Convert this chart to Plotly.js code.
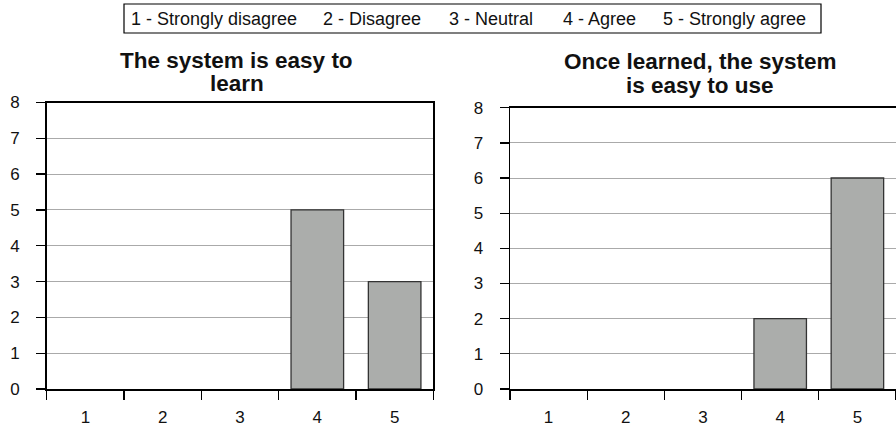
<!DOCTYPE html>
<html>
<head>
<meta charset="utf-8">
<script src="https://cdn.plot.ly/plotly-3.0.1.min.js"></script>
<style>html,body{margin:0;padding:0;background:#fff;}#chart{width:896px;height:427px;}</style>
</head>
<body>
<div id="chart"></div>
<script>
// ---- data ----
const categories = ['1', '2', '3', '4', '5'];
const learnCounts = [0, 0, 0, 5, 3];
const useCounts = [0, 0, 0, 2, 6];
const legendLabels = ['1 - Strongly disagree', '2 - Disagree', '3 - Neutral', '4 - Agree', '5 - Strongly agree'];
const titleLeft = ['The system is easy to', 'learn'];
const titleRight = ['Once learned, the system', 'is easy to use'];

// ---- layout helpers ----
const W = 896, H = 427;
const px = x => x / W;
const py = y => 1 - y / H;
const FONT = 'Liberation Sans, Arial, Helvetica, sans-serif';

function barMarker(vals) {
  return {color: '#abadab', line: {color: '#333333', width: vals.map(v => (v === 0 ? 0 : 1.3))}};
}

const traces = [
  {type: 'bar', x: categories, y: learnCounts, xaxis: 'x', yaxis: 'y', width: 0.68,
   marker: barMarker(learnCounts), showlegend: false, hoverinfo: 'x+y'},
  {type: 'bar', x: categories, y: useCounts, xaxis: 'x2', yaxis: 'y2', width: 0.68,
   marker: barMarker(useCounts), showlegend: false, hoverinfo: 'x+y'}
];

function xAxis(domain, anchor) {
  return {
    domain: domain, anchor: anchor, type: 'category', categoryorder: 'array', categoryarray: categories,
    range: [-0.5, 4.5], tickson: 'boundaries', ticks: 'outside', ticklen: 9, tickwidth: 1.3,
    tickcolor: '#000', showline: true, linecolor: '#000', linewidth: 1.5, mirror: true,
    showgrid: false, zeroline: false, fixedrange: true, ticklabelstandoff: 12,
    tickfont: {family: FONT, size: 17, color: '#111'}
  };
}
function yAxis(domain, anchor, mirror) {
  return {
    domain: domain, anchor: anchor, range: [0, 8], dtick: 1, tick0: 0, ticks: 'outside',
    ticklen: 9, tickwidth: 1.3, tickcolor: '#000', showline: true, linecolor: '#000',
    linewidth: 1.5, mirror: mirror, showgrid: true, gridcolor: '#aaaaaa', gridwidth: 1,
    zeroline: false, fixedrange: true, ticklabelstandoff: 13,
    tickfont: {family: FONT, size: 17, color: '#111'}
  };
}

// legend item left positions (pixels)
const legendX = [129, 321, 447, 561, 661];
const annotations = [];
legendLabels.forEach((t, i) => {
  annotations.push({text: t, xref: 'paper', yref: 'paper', x: px(legendX[i]), y: py(18.5),
    xanchor: 'left', yanchor: 'middle', showarrow: false,
    font: {family: FONT, size: 18, color: '#111'}});
});
const titleFont = {family: FONT, size: 22.5, color: '#111'};
[[titleLeft, 237, [61, 83]], [titleRight, 700, [62, 85]]].forEach(([lines, cx, ys]) => {
  lines.forEach((t, i) => {
    annotations.push({text: '<b>' + t + '</b>', xref: 'paper', yref: 'paper', x: px(cx), y: py(ys[i]),
      xanchor: 'center', yanchor: 'middle', showarrow: false, font: titleFont});
  });
});

const layout = {
  width: W, height: H, margin: {l: 0, r: 0, t: 0, b: 0},
  paper_bgcolor: '#fff', plot_bgcolor: '#fff', showlegend: false,
  xaxis: xAxis([px(46.7), px(433.3)], 'y'),
  yaxis: yAxis([1 - 389 / H, 1 - 102.5 / H], 'x', true),
  xaxis2: xAxis([px(510), 1], 'y2'),
  yaxis2: yAxis([1 - 389 / H, 1 - 107.7 / H], 'x2', false),
  annotations: annotations,
  shapes: [{type: 'rect', xref: 'paper', yref: 'paper', x0: px(124), x1: px(821), y0: py(33), y1: py(4),
    line: {color: '#000', width: 1.2}, fillcolor: 'rgba(0,0,0,0)'}]
};

Plotly.newPlot('chart', traces, layout, {displayModeBar: false, staticPlot: true});
</script>
</body>
</html>
